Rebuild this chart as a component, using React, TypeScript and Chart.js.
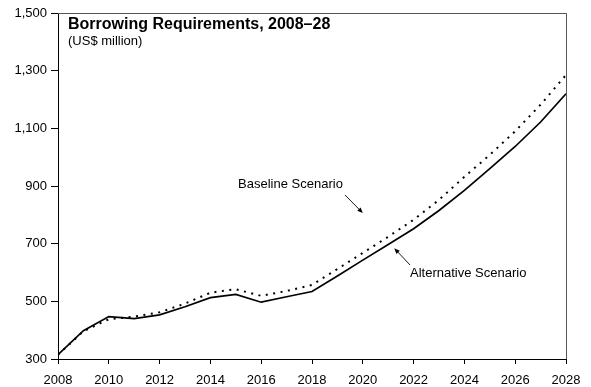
import { useEffect, useRef } from "react";
import { Chart, registerables } from "chart.js";

Chart.register(...registerables);

// Fiscal years on the horizontal axis
const years = [
  2008, 2009, 2010, 2011, 2012, 2013, 2014, 2015, 2016, 2017, 2018,
  2019, 2020, 2021, 2022, 2023, 2024, 2025, 2026, 2027, 2028,
];

// Borrowing requirements, US$ million
const baseline = [
  315, 396, 438, 447, 462, 492, 530, 542, 519, 536, 557,
  612, 668, 724, 783, 852, 932, 1008, 1090, 1182, 1285,
];
const alternative = [
  315, 398, 447, 440, 453, 481, 513, 524, 497, 516, 534,
  588, 643, 697, 752, 815, 885, 960, 1037, 1122, 1220,
];

const xTickYears = [2008, 2010, 2012, 2014, 2016, 2018, 2020, 2022, 2024, 2026, 2028];
const yTickValues = [300, 500, 700, 900, 1100, 1300, 1500];

const titleText = "Borrowing Requirements, 2008\u201328";
const subtitleText = "(US$ million)";

const FONT = '"Liberation Sans", Arial, Helvetica, sans-serif';

// Callout labels with arrows, anchored in data units (year, value)
const callouts = [
  { text: "Baseline Scenario", tx: 2015.09, ty: 907, from: [2019.3, 869], to: [2020.0, 806] },
  { text: "Alternative Scenario", tx: 2021.86, ty: 598, from: [2021.86, 626], to: [2021.24, 684] },
];

const framePlugin = {
  id: "frameAndNotes",
  afterDatasetsDraw(chart: any) {
    const { ctx, chartArea, scales } = chart;
    const xs = scales.x;
    const ys = scales.y;
    ctx.save();

    // top and right edges of the plot frame
    ctx.strokeStyle = "#555";
    ctx.lineWidth = 1;
    ctx.beginPath();
    ctx.moveTo(Math.round(chartArea.left), Math.round(chartArea.top) + 0.5);
    ctx.lineTo(Math.round(chartArea.right) + 0.5, Math.round(chartArea.top) + 0.5);
    ctx.lineTo(Math.round(chartArea.right) + 0.5, Math.round(chartArea.bottom));
    ctx.stroke();

    // heading inside the plot
    ctx.fillStyle = "#000";
    ctx.textAlign = "left";
    ctx.textBaseline = "alphabetic";
    ctx.font = `bold 16px ${FONT}`;
    ctx.fillText(titleText, chartArea.left + 10, 28.5);
    ctx.font = `13px ${FONT}`;
    ctx.fillText(subtitleText, chartArea.left + 10, 44.5);

    // callouts
    ctx.font = `13px ${FONT}`;
    ctx.textBaseline = "middle";
    for (const c of callouts) {
      ctx.fillStyle = "#000";
      ctx.fillText(c.text, xs.getPixelForValue(c.tx), ys.getPixelForValue(c.ty));
      const x1 = xs.getPixelForValue(c.from[0]);
      const y1 = ys.getPixelForValue(c.from[1]);
      const x2 = xs.getPixelForValue(c.to[0]);
      const y2 = ys.getPixelForValue(c.to[1]);
      const ang = Math.atan2(y2 - y1, x2 - x1);
      const head = 6;
      const spread = 0.4;
      ctx.strokeStyle = "#000";
      ctx.lineWidth = 0.9;
      ctx.beginPath();
      ctx.moveTo(x1, y1);
      ctx.lineTo(x2 - Math.cos(ang) * head * 0.8, y2 - Math.sin(ang) * head * 0.8);
      ctx.stroke();
      ctx.beginPath();
      ctx.moveTo(x2, y2);
      ctx.lineTo(x2 - head * Math.cos(ang - spread), y2 - head * Math.sin(ang - spread));
      ctx.lineTo(x2 - head * Math.cos(ang + spread), y2 - head * Math.sin(ang + spread));
      ctx.closePath();
      ctx.fill();
    }
    ctx.restore();
  },
};

export default function App() {
  const canvasRef = useRef<HTMLCanvasElement | null>(null);

  useEffect(() => {
    const canvas = canvasRef.current;
    if (!canvas) return;
    const chart = new Chart(canvas, {
      type: "line",
      data: {
        datasets: [
          {
            label: "Baseline Scenario",
            data: years.map((y, i) => ({ x: y, y: baseline[i] })),
            borderColor: "#000",
            borderWidth: 2,
            borderDash: [2, 5.5],
            pointRadius: 0,
            tension: 0,
            fill: false,
          },
          {
            label: "Alternative Scenario",
            data: years.map((y, i) => ({ x: y, y: alternative[i] })),
            borderColor: "#000",
            borderWidth: 1.7,
            pointRadius: 0,
            tension: 0,
            fill: false,
          },
        ],
      },
      options: {
        responsive: false,
        animation: false,
        devicePixelRatio: 1,
        layout: { padding: { left: 0, top: 13, right: 25, bottom: 0 } },
        plugins: {
          legend: { display: false },
          tooltip: { enabled: false },
          title: { display: false },
        },
        scales: {
          x: {
            type: "linear",
            min: 2008,
            max: 2028,
            afterFit: (s: any) => {
              s.height = 28;
            },
            afterBuildTicks: (s: any) => {
              s.ticks = xTickYears.map((v) => ({ value: v }));
            },
            ticks: {
              callback: (v: any) => String(v),
              color: "#000",
              font: { family: FONT, size: 13 },
              padding: 9,
              maxRotation: 0,
              autoSkip: false,
            },
            grid: {
              drawOnChartArea: false,
              drawTicks: true,
              tickLength: 5,
              color: "#000",
            },
            border: { display: true, color: "#000", width: 1 },
          },
          y: {
            type: "linear",
            min: 300,
            max: 1500,
            afterFit: (s: any) => {
              s.width = 58;
            },
            afterBuildTicks: (s: any) => {
              s.ticks = yTickValues.map((v) => ({ value: v }));
            },
            ticks: {
              callback: (v: any) => Number(v).toLocaleString("en-US"),
              color: "#000",
              font: { family: FONT, size: 13 },
              padding: 4,
              autoSkip: false,
            },
            grid: {
              drawOnChartArea: false,
              drawTicks: true,
              tickLength: 7,
              color: "#000",
            },
            border: { display: true, color: "#000", width: 1 },
          },
        },
      },
      plugins: [framePlugin],
    });
    return () => chart.destroy();
  }, []);

  return (
    <div style={{ position: "absolute", left: 0, top: 0, width: 591, height: 387, background: "#fff" }}>
      <canvas ref={canvasRef} width={591} height={387} style={{ width: 591, height: 387, display: "block" }} />
    </div>
  );
}
